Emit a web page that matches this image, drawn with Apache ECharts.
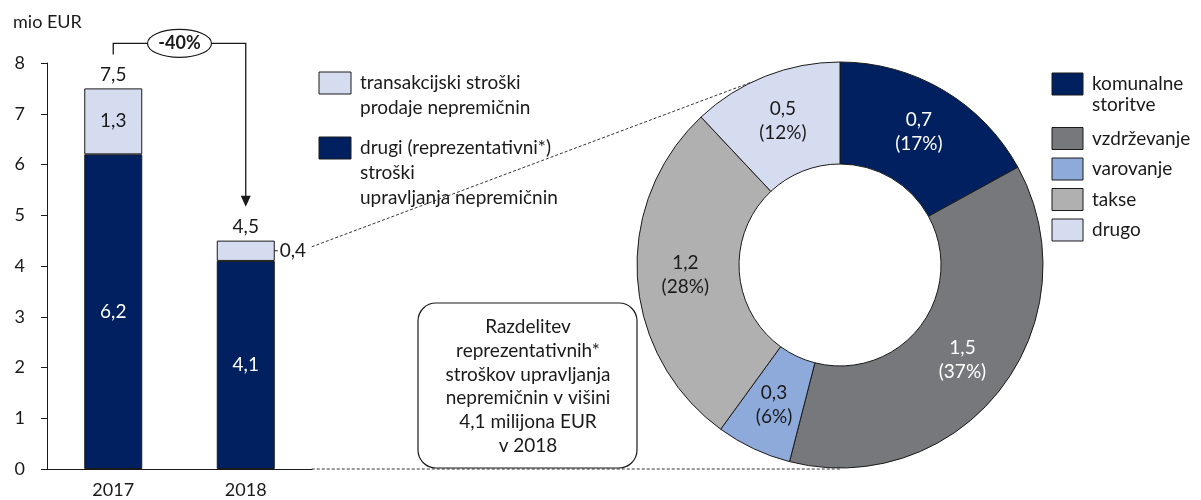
<!DOCTYPE html>
<html>
<head>
<meta charset="utf-8">
<script src="https://cdn.jsdelivr.net/npm/echarts@6/dist/echarts.min.js"></script>
<style>
  html, body { margin: 0; padding: 0; background: #fff; }
  #content_data { width: 1201px; height: 500px; }
</style>
</head>
<body>
<div id="content_data"></div>
<script>
// chart data
const years = ['2017', '2018'];
const otherCosts = [6.2, 4.1];          // drugi (reprezentativni*) stroški
const transactionCosts = [1.3, 0.4];    // transakcijski stroški
const totals = [7.5, 4.5];
const changeLabel = '-40%';

const sliceNames = ['komunalne\nstoritve', 'vzdrževanje', 'varovanje', 'takse', 'drugo'];
const sliceValues = [0.7, 1.5, 0.3, 1.2, 0.5];
const sliceShares = [17, 37, 6, 28, 12];

const barNames = ['transakcijski stroški\nprodaje nepremičnin', 'drugi (reprezentativni*)\nstroški\nupravljanja nepremičnin'];
const boxText = 'Razdelitev\nreprezentativnih*\nstroškov upravljanja\nnepremičnin v višini\n4,1 milijona EUR\nv 2018';

const FONT = 'Lato';
const FS = 19;
const NAVY = '#002060';
const LIGHT = '#d6dcf0';
const INK = '#1a1a1a';
const sliceColors = [NAVY, '#77787b', '#8eaadb', '#b0b0b0', LIGHT];
const sliceText = ['#fff', '#fff', INK, INK, INK];

const fmt = v => String(v).replace('.', ',');

const Chart = echarts.init(document.getElementById('content_data'));

const pieCenter = [840, 265];
const pieR = [101, 203];

Chart.setOption({
    animation: false,
    textStyle: { fontFamily: FONT },
    title: {
        text: 'mio EUR',
        left: 8, top: 8,
        textStyle: { fontFamily: FONT, fontSize: 18, fontWeight: 'normal', color: INK }
    },
    grid: { left: 47, right: 889, top: 63, bottom: 31 },
    xAxis: {
        type: 'category',
        data: years,
        axisLine: { lineStyle: { color: INK, width: 1 } },
        axisTick: { show: false },
        axisLabel: { fontSize: 18, color: INK, margin: 12, fontFamily: FONT }
    },
    yAxis: {
        type: 'value',
        min: 0, max: 8, interval: 1,
        axisLine: { show: true, lineStyle: { color: INK, width: 1 } },
        axisTick: { show: true, length: 6, lineStyle: { color: INK } },
        splitLine: { show: false },
        axisLabel: { fontSize: 18, color: INK, margin: 22, fontFamily: FONT }
    },
    series: [
        {
            name: 'drugi',
            type: 'bar',
            stack: 'a',
            barWidth: 58,
            data: otherCosts,
            itemStyle: { color: NAVY, borderColor: INK, borderWidth: 1 },
            label: {
                show: true, position: 'inside', color: '#fff', fontSize: FS, fontFamily: FONT,
                formatter: p => fmt(p.value)
            }
        },
        {
            name: 'transakcijski',
            type: 'bar',
            stack: 'a',
            barWidth: 58,
            data: transactionCosts.map((v, i) => ({
                value: v,
                label: i === 0 ? { position: 'inside' } : { position: 'right', distance: 5 }
            })),
            itemStyle: { color: LIGHT, borderColor: INK, borderWidth: 1 },
            label: {
                show: true, color: INK, fontSize: FS, fontFamily: FONT,
                formatter: p => fmt(p.value)
            }
        },
        {
            name: 'total',
            type: 'bar',
            stack: 'a',
            barWidth: 58,
            data: totals.map(() => 0),
            itemStyle: { color: 'transparent', borderWidth: 0 },
            label: {
                show: true, position: 'top', distance: 4, color: INK, fontSize: FS, fontFamily: FONT,
                formatter: p => fmt(totals[p.dataIndex])
            }
        },
        {
            type: 'pie',
            center: pieCenter,
            radius: pieR,
            startAngle: 90,
            clockwise: true,
            silent: true,
            data: sliceNames.map((n, i) => ({
                name: n,
                value: sliceShares[i],
                itemStyle: { color: sliceColors[i] },
                label: { color: sliceText[i] }
            })),
            itemStyle: { borderColor: INK, borderWidth: 1 },
            label: {
                show: true, position: 'inside', fontSize: FS, lineHeight: 24, fontFamily: FONT,
                formatter: p => fmt(sliceValues[p.dataIndex]) + '\n(' + sliceShares[p.dataIndex] + '%)'
            },
            labelLine: { show: false }
        }
    ]
});

// annotations placed from the axis scale
const px = (i, v) => Chart.convertToPixel({ gridIndex: 0 }, [i, v]);
const top17 = px(0, totals[0]);
const top18 = px(1, totals[1]);
const zero = px(1, 0);
const seg18 = px(1, otherCosts[1] + transactionCosts[1] / 2);
const barRight18 = top18[0] + 29;
const bracketY = top17[1] - 45;
const midX = (top17[0] + top18[0]) / 2;

const g = [];
const lineStyle = { stroke: INK, lineWidth: 1.3, fill: null };

g.push({
    type: 'polyline',
    shape: { points: [[top17[0], top17[1] - 34], [top17[0], bracketY], [top18[0], bracketY], [top18[0], top18[1] - 44]] },
    style: lineStyle
});
g.push({
    type: 'polygon',
    shape: { points: [[top18[0] - 5, top18[1] - 45], [top18[0] + 5, top18[1] - 45], [top18[0], top18[1] - 34]] },
    style: { fill: INK }
});
g.push({
    type: 'ellipse',
    shape: { cx: midX, cy: bracketY, rx: 32, ry: 14 },
    style: { fill: '#fff', stroke: INK, lineWidth: 1.2 }
});
g.push({
    type: 'text',
    x: midX, y: bracketY,
    style: { text: changeLabel, fontSize: 18, fontWeight: 'bold', fontFamily: FONT, fill: INK, align: 'center', verticalAlign: 'middle' }
});

// leader for the small 0,4 segment
g.push({
    type: 'line',
    shape: { x1: barRight18 - 8, y1: seg18[1], x2: barRight18 + 3, y2: seg18[1] },
    style: { stroke: INK, lineWidth: 1 }
});

// dashed connectors to the donut
const dashStyle = { stroke: '#333', lineWidth: 1, lineDash: [3, 2] };
const ang = 334.5 * Math.PI / 180;
g.push({
    type: 'line',
    shape: { x1: barRight18 + 37, y1: seg18[1] - 4, x2: pieCenter[0] + pieR[1] * Math.sin(ang), y2: pieCenter[1] - pieR[1] * Math.cos(ang) },
    style: dashStyle
});
g.push({
    type: 'line',
    shape: { x1: barRight18 + 37, y1: zero[1], x2: pieCenter[0], y2: zero[1] },
    style: dashStyle,
    z: -1
});

// rounded text box
g.push({
    type: 'rect',
    shape: { x: 418, y: 303, width: 219, height: 165, r: 18 },
    style: { fill: '#fff', stroke: INK, lineWidth: 1.2 }
});
g.push({
    type: 'text',
    x: 528, y: 315,
    style: { text: boxText, fontSize: FS, lineHeight: 23.8, fontFamily: FONT, fill: INK, align: 'center', verticalAlign: 'top' }
});

// legend for the bars
let ly = 72;
[LIGHT, NAVY].forEach((c, i) => {
    const lines = barNames[i].split('\n').length;
    g.push({ type: 'rect', shape: { x: 319, y: ly, width: 32, height: 22 }, style: { fill: c, stroke: INK, lineWidth: 1 } });
    g.push({
        type: 'text', x: 360, y: ly + 11 - 12.5,
        style: { text: barNames[i], fontSize: FS, lineHeight: 25, fontFamily: FONT, fill: INK, verticalAlign: 'top' }
    });
    ly += 40 + 25 * (lines - 1);
});

// legend for the donut
let ry = 73;
sliceNames.forEach((n, i) => {
    const lines = n.split('\n').length;
    g.push({ type: 'rect', shape: { x: 1052, y: ry, width: 31, height: 22 }, style: { fill: sliceColors[i], stroke: INK, lineWidth: 1 } });
    g.push({
        type: 'text', x: 1092, y: ry + 11 - 10.5,
        style: { text: n, fontSize: FS, lineHeight: 21, fontFamily: FONT, fill: INK, verticalAlign: 'top' }
    });
    ry += 30.5 + 24 * (lines - 1);
});

Chart.setOption({ graphic: g });
</script>
</body>
</html>
